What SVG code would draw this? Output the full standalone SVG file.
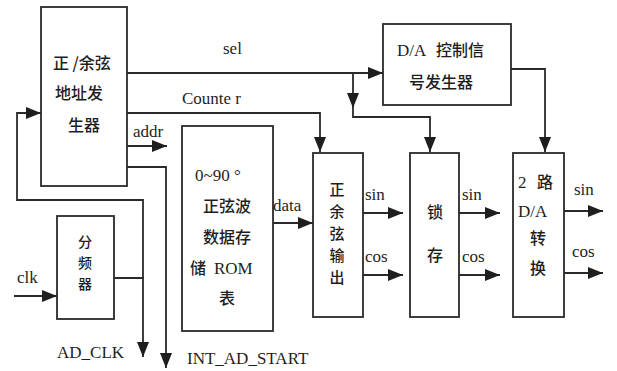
<svg xmlns="http://www.w3.org/2000/svg" width="617" height="371" viewBox="0 0 617 371">
<style>
.box{fill:none;stroke:#2a2a2a;stroke-width:1.8}
.ln{fill:none;stroke:#2a2a2a;stroke-width:1.8}
.arr{marker-end:url(#ah)}
text{font-family:"Liberation Serif","Noto Sans CJK SC",serif;font-size:17px;fill:#1e1e1e}
.cn{font-family:"Noto Sans CJK SC","Liberation Serif",serif;font-size:16px;font-weight:500}
.st{font-size:15px}
.st2{font-size:14px}
.mid{text-anchor:middle}
</style>
<defs>
<marker id="ah" markerUnits="userSpaceOnUse" markerWidth="16" markerHeight="12" refX="15" refY="6" orient="auto">
<path d="M0,0 L15,6 L0,12 z" fill="#1e1e1e"/>
</marker>
</defs>
<rect width="617" height="371" fill="#ffffff"/>

<g id="addr-gen">
<rect class="box" x="41" y="7" width="86" height="179"/>
<text class="cn" x="53" y="69">正 /余弦</text>
<text class="cn" x="55" y="99">地址发</text>
<text class="cn" x="68" y="131">生器</text>
</g>

<g id="da-ctrl">
<rect class="box" x="383" y="24" width="128" height="81"/>
<text x="397" y="56">D/A</text>
<text class="cn" x="436" y="56">控制信</text>
<text class="cn" x="409" y="88">号发生器</text>
</g>

<g id="divider">
<rect class="box" x="57" y="216" width="57" height="103"/>
<text class="cn st2 mid" x="85" y="247">分</text>
<text class="cn st2 mid" x="85" y="268">频</text>
<text class="cn st2 mid" x="85" y="289">器</text>
</g>

<g id="rom">
<rect class="box" x="182" y="126" width="91" height="205"/>
<text x="195" y="181">0~90 °</text>
<text class="cn mid" x="227" y="212">正弦波</text>
<text class="cn mid" x="227" y="243">数据存</text>
<text class="cn" x="190" y="274">储</text>
<text x="214" y="274">ROM</text>
<text class="cn mid" x="227" y="304">表</text>
</g>

<g id="sincos-out">
<rect class="box" x="313" y="153" width="50" height="164"/>
<text class="cn st mid" x="337" y="195">正</text>
<text class="cn st mid" x="337" y="217">余</text>
<text class="cn st mid" x="337" y="239">弦</text>
<text class="cn st mid" x="337" y="261">输</text>
<text class="cn st mid" x="337" y="283">出</text>
</g>

<g id="latch">
<rect class="box" x="410" y="153" width="49" height="164"/>
<text class="cn mid" x="435" y="218">锁</text>
<text class="cn mid" x="435" y="261">存</text>
</g>

<g id="dac">
<rect class="box" x="513" y="153" width="51" height="164"/>
<text x="518" y="188">2</text>
<text class="cn" x="537" y="188">路</text>
<text x="518" y="217">D/A</text>
<text class="cn mid" x="538" y="244">转</text>
<text class="cn mid" x="538" y="274">换</text>
</g>

<g id="connectors">
<polyline class="ln arr" points="127,73 383,73"/>
<polyline class="ln arr" points="353,73 353,108"/>
<polyline class="ln arr" points="353,108 353,117 430,117 430,152"/>
<polyline class="ln arr" points="127,113 320,113 320,152"/>
<polyline class="ln arr" points="511,69 545,69 545,152"/>
<polyline class="ln arr" points="127,146 167,146"/>
<polyline class="ln arr" points="127,167 166,167 166,368"/>
<polyline class="ln arr" points="143,278 143,200 17,200 17,113 41,113"/>
<polyline class="ln arr" points="114,278 143,278 143,357"/>
<polyline class="ln arr" points="14,296 57,296"/>
<polyline class="ln arr" points="273,223 313,223"/>
<polyline class="ln arr" points="363,213 403,213"/>
<polyline class="ln arr" points="363,275 403,275"/>
<polyline class="ln arr" points="459,213 500,213"/>
<polyline class="ln arr" points="459,275 500,275"/>
<polyline class="ln arr" points="564,211 603,211"/>
<polyline class="ln arr" points="564,273 603,273"/>
</g>

<g id="labels">
<text x="223" y="54">sel</text>
<text x="182" y="104">Counte  r</text>
<text x="133" y="137">addr</text>
<text x="273" y="211">data</text>
<text x="17" y="283">clk</text>
<text x="365" y="200">sin</text>
<text x="365" y="262">cos</text>
<text x="462" y="200">sin</text>
<text x="462" y="262">cos</text>
<text x="574" y="195">sin</text>
<text x="572" y="257">cos</text>
<text x="57" y="358">AD_CLK</text>
<text x="187" y="364">INT_AD_START</text>
</g>
</svg>
